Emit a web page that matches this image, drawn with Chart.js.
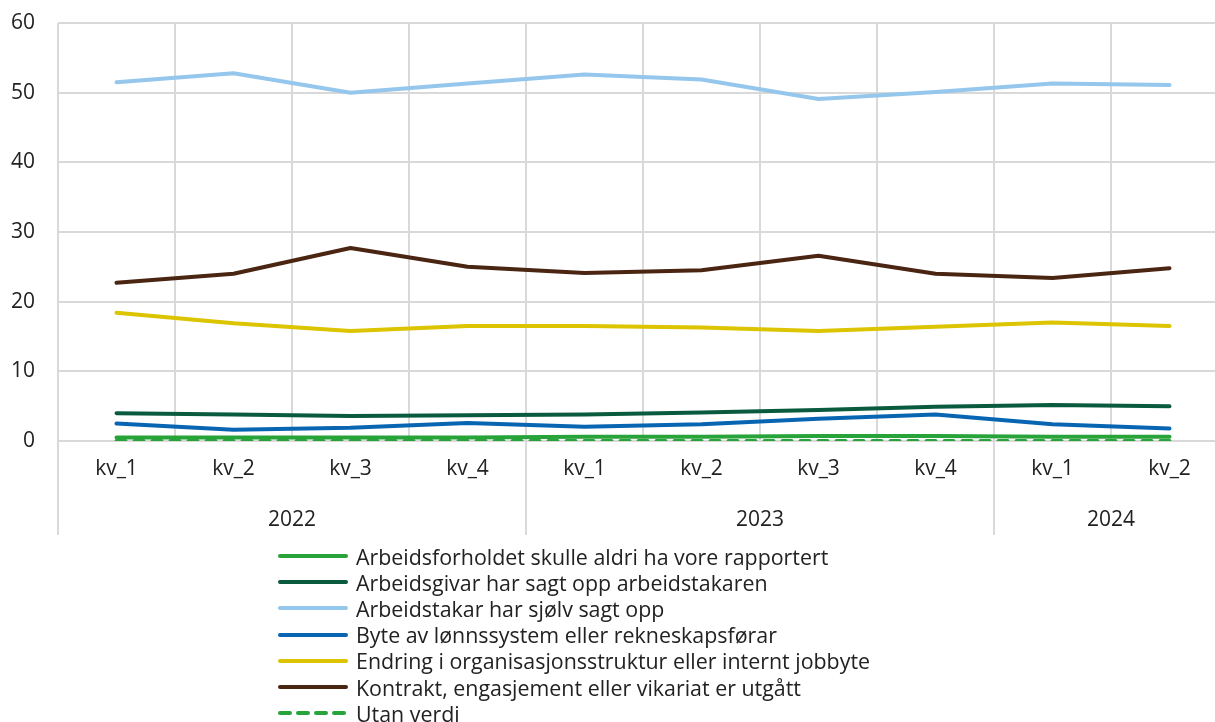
<!DOCTYPE html>
<html>
<head>
<meta charset="utf-8">
<script src="https://cdn.jsdelivr.net/npm/chart.js@4/dist/chart.umd.min.js"></script>
<style>
  html, body { margin: 0; padding: 0; background: #fff; overflow: hidden; width: 1215px; height: 722px; }
  #wrap { position: absolute; left: 0; top: 0; width: 1228px; height: 545px; }
  #legend { position: absolute; left: 278px; top: 543px; font-family: "Open Sans", sans-serif; font-size: 21.4px; color: #222; }
  .row { display: flex; align-items: center; height: 26.2px; white-space: nowrap; }
  .row svg { display: block; margin-right: 8px; }
</style>
</head>
<body>
<div id="wrap"><canvas id="c" width="1228" height="545"></canvas></div>
<div id="legend"></div>
<script>
// ---- data ----
const quarters = ['kv_1','kv_2','kv_3','kv_4','kv_1','kv_2','kv_3','kv_4','kv_1','kv_2'];
const years = ['2022','2023','2024'];
const yearSpans = [4, 4, 2];

const seriesNames = [
  'Arbeidsforholdet skulle aldri ha vore rapportert',
  'Arbeidsgivar har sagt opp arbeidstakaren',
  'Arbeidstakar har sjølv sagt opp',
  'Byte av lønnssystem eller rekneskapsførar',
  'Endring i organisasjonsstruktur eller internt jobbyte',
  'Kontrakt, engasjement eller vikariat er utgått',
  'Utan verdi'
];
const aldriRapportert = [0.5, 0.5, 0.5, 0.5, 0.6, 0.6, 0.7, 0.7, 0.6, 0.6];
const arbeidsgivarOpp = [4.0, 3.8, 3.6, 3.7, 3.8, 4.1, 4.45, 4.9, 5.15, 5.0];
const arbeidstakarOpp = [51.5, 52.8, 50.0, 51.3, 52.6, 51.9, 49.1, 50.1, 51.3, 51.1];
const byteLonnssystem = [2.5, 1.6, 1.9, 2.6, 2.05, 2.4, 3.2, 3.8, 2.4, 1.8];
const endringOrg = [18.4, 16.9, 15.8, 16.5, 16.5, 16.3, 15.8, 16.4, 17.0, 16.5];
const kontraktUtgatt = [22.7, 24.0, 27.7, 25.0, 24.1, 24.5, 26.6, 24.0, 23.4, 24.8];
const utanVerdi = [0, 0, 0, 0, 0, 0, 0, 0, 0, 0];
const yTicks = [0, 10, 20, 30, 40, 50, 60];

// ---- styles ----
const colors = ['#27a33a', '#0a5a3e', '#95c6ec', '#0865b2', '#dcc400', '#4a2512', '#27a33a'];
const allData = [aldriRapportert, arbeidsgivarOpp, arbeidstakarOpp, byteLonnssystem, endringOrg, kontraktUtgatt, utanVerdi];
const FONT = '"Open Sans", sans-serif';
const FS = 21;
const TXT = '#222';
const GRID = '#d9d9d9';

const datasets = allData.map((d, i) => ({
  label: seriesNames[i],
  data: d,
  borderColor: colors[i],
  backgroundColor: colors[i],
  borderWidth: 4,
  pointRadius: 0,
  tension: 0,
  borderCapStyle: 'round',
  borderJoinStyle: 'round',
  borderDash: i === 6 ? [9, 9] : [],
  order: i === 6 ? -1 : i
}));

const yearPlugin = {
  id: 'yearGroups',
  afterDraw(chart) {
    const ctx = chart.ctx;
    const x = chart.scales.x;
    const area = chart.chartArea;
    const half = (x.getPixelForValue(1) - x.getPixelForValue(0)) / 2;
    let start = 0;
    ctx.save();
    ctx.strokeStyle = GRID;
    ctx.lineWidth = 2;
    ctx.fillStyle = TXT;
    ctx.font = FS + 'px ' + FONT;
    ctx.textAlign = 'center';
    ctx.textBaseline = 'middle';
    const bounds = [x.getPixelForValue(0) - half];
    years.forEach((yr, g) => {
      const end = start + yearSpans[g] - 1;
      const l = x.getPixelForValue(start) - half;
      const r = x.getPixelForValue(end) + half;
      bounds.push(r);
      ctx.fillText(yr, (l + r) / 2, 520);
      start = end + 1;
    });
    bounds.forEach(b => {
      ctx.beginPath();
      ctx.moveTo(b, area.bottom);
      ctx.lineTo(b, 535);
      ctx.stroke();
    });
    ctx.restore();
  }
};

const chart = new Chart(document.getElementById('c'), {
  type: 'line',
  data: { labels: quarters, datasets },
  options: {
    responsive: false,
    animation: false,
    devicePixelRatio: 1,
    layout: { padding: { top: 23, left: 0, right: 0, bottom: 0 } },
    plugins: { legend: { display: false }, tooltip: { enabled: false } },
    scales: {
      x: {
        offset: true,
        grid: { offset: true, color: GRID, lineWidth: 2, drawTicks: false },
        border: { display: false },
        ticks: { color: TXT, font: { family: FONT, size: FS }, padding: 15, maxRotation: 0, autoSkip: false },
        afterFit(s) { s.height = 104; s.paddingLeft = 0; s.paddingRight = 0; }
      },
      y: {
        min: 0, max: 60,
        afterBuildTicks(s) { s.ticks = yTicks.map(v => ({ value: v })); },
        grid: { color: GRID, lineWidth: 2, drawTicks: false },
        border: { display: false },
        ticks: { color: TXT, font: { family: FONT, size: FS }, padding: 23 },
        afterFit(s) { s.width = 58; s.paddingTop = 0; s.paddingBottom = 0; }
      }
    }
  },
  plugins: [yearPlugin]
});

// ---- HTML legend built from the datasets ----
const legend = document.getElementById('legend');
chart.data.datasets.forEach(ds => {
  const row = document.createElement('div');
  row.className = 'row';
  const dash = ds.borderDash.length ? 'stroke-dasharray="10 8"' : '';
  row.innerHTML = '<svg width="70" height="8"><line x1="2" y1="4" x2="68" y2="4" stroke="' + ds.borderColor +
    '" stroke-width="4" stroke-linecap="round" ' + dash + '/></svg><span>' + ds.label + '</span>';
  legend.appendChild(row);
});
</script>
</body>
</html>
